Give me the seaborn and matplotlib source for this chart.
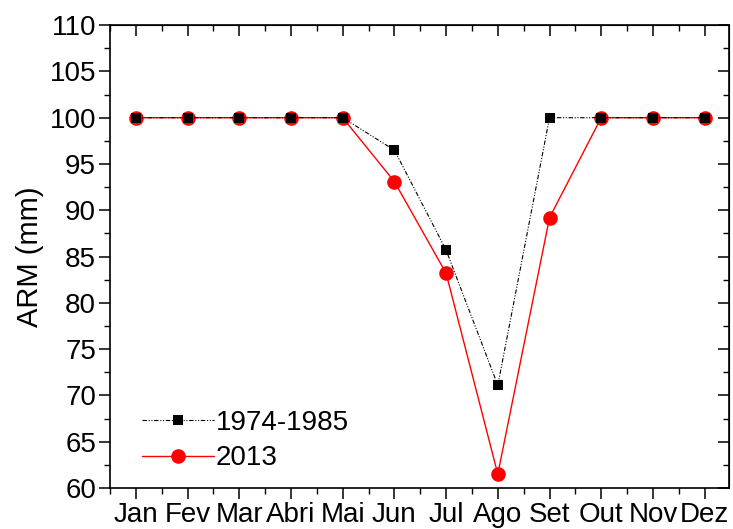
import numpy as np
import pandas as pd
import matplotlib
matplotlib.use("Agg")
import matplotlib.pyplot as plt
from matplotlib.ticker import MultipleLocator
import seaborn as sns

# ========== DATA ========== #

MONTHS = ["Jan", "Fev", "Mar", "Abri", "Mai", "Jun",
          "Jul", "Ago", "Set", "Out", "Nov", "Dez"]
ARM_1974_1985 = [100, 100, 100, 100, 100, 96.5, 85.7, 71.1, 100, 100, 100, 100]
ARM_2013 = [100, 100, 100, 100, 100, 93.1, 83.2, 61.5, 89.2, 100, 100, 100]
LABELS = ["1974-1985", "2013"]

# ========== PLOT ========== #

sns.set_style("ticks")
plt.rcParams["font.family"] = ["Liberation Sans", "DejaVu Sans"]
for key in ["text.color", "axes.labelcolor", "xtick.color", "ytick.color",
            "axes.edgecolor"]:
    plt.rcParams[key] = "black"

df = pd.DataFrame({
    "mes": np.arange(len(MONTHS)),
    "old": ARM_1974_1985,
    "new": ARM_2013,
})

fig = plt.figure(figsize=(7.33, 5.29), dpi=100)
ax = fig.add_axes([0.150, 0.0775, 0.8445, 0.875])

# red series first so black squares sit on top
sns.lineplot(data=df, x="mes", y="new", ax=ax, color="#ff0000", lw=1.0,
             marker="o", markersize=10.5, markeredgewidth=0,
             label=LABELS[1], zorder=2)
sns.lineplot(data=df, x="mes", y="old", ax=ax, color="black", lw=0.8,
             marker="s", markersize=7.3, markeredgewidth=0,
             dashes=False, label=LABELS[0], zorder=3)
ax.lines[-1].set_dashes([4, 1.5, 1, 1.5, 1, 1.5])

ax.set_xlim(-0.5, 11.47)
ax.set_ylim(60, 110)
ax.set_xticks(df["mes"])
ax.set_xticklabels(MONTHS)
ax.xaxis.set_minor_locator(MultipleLocator(0.5))
ax.yaxis.set_major_locator(MultipleLocator(5))
ax.yaxis.set_minor_locator(MultipleLocator(2.5))

ax.set_xlabel("")
ax.set_ylabel("ARM (mm)", fontsize=21, labelpad=4)

for side in ["left", "right", "top", "bottom"]:
    ax.spines[side].set_visible(True)
    ax.spines[side].set_linewidth(1.2)

ax.tick_params(axis="both", which="major", direction="out", length=8,
               width=1.1, labelsize=20, pad=2)
ax.tick_params(axis="both", which="minor", direction="out", length=4, width=1.0)
# mirror ticks pointing inward on top/right
axt = ax.secondary_xaxis("top")
axt.set_xticks(df["mes"])
axt.set_xticklabels([])
axt.xaxis.set_minor_locator(MultipleLocator(0.5))
axt.tick_params(which="major", direction="in", length=8, width=1.1)
axt.tick_params(which="minor", direction="in", length=4, width=1.0)
axr = ax.secondary_yaxis("right")
axr.yaxis.set_major_locator(MultipleLocator(5))
axr.yaxis.set_minor_locator(MultipleLocator(2.5))
axr.set_yticklabels([])
axr.tick_params(which="major", direction="in", length=8, width=1.1)
axr.tick_params(which="minor", direction="in", length=4, width=1.0)

handles, labels = ax.get_legend_handles_labels()
order = [labels.index(l) for l in LABELS]
ax.legend([handles[i] for i in order], [labels[i] for i in order],
          loc="lower left", bbox_to_anchor=(0.025, 0.0), frameon=False,
          fontsize=20, handlelength=2.6, handletextpad=0.05,
          labelspacing=0.35, borderaxespad=0.2)

fig.savefig("out.png", dpi=100)
